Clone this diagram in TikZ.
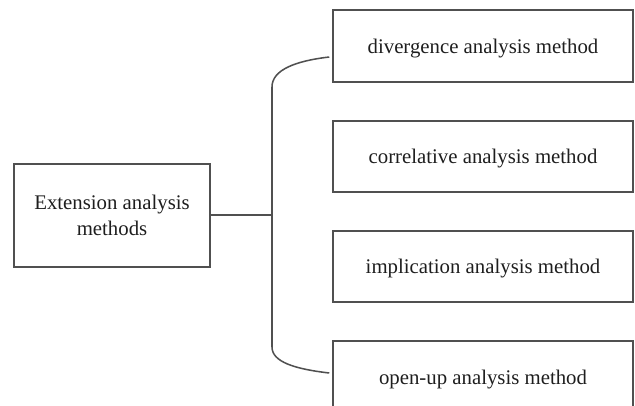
\documentclass[tikz,border=0pt]{standalone}
\usepackage{fontspec}
\setmainfont{Liberation Serif}
\definecolor{linegray}{HTML}{505050}
\definecolor{textgray}{HTML}{1E1E1E}
\begin{document}
\begin{tikzpicture}[x=0.75pt,y=-0.75pt,
  box/.style={draw=linegray,line width=1.15pt,text=textgray,inner sep=0pt,
    font=\fontsize{15.6}{19.5}\selectfont,align=center},
  itembox/.style={box,minimum width=300*0.75pt,text height=15pt,text depth=4pt},
  conn/.style={draw=linegray,line width=1.15pt}]
\useasboundingbox (0,0) rectangle (635,406);
\node[box,minimum width=196*0.75pt,minimum height=103*0.75pt] (src) at (112,215.5) {Extension analysis\\methods};
\node[itembox,minimum height=72*0.75pt] (b1) at (483,46) {divergence analysis method};
\node[itembox,minimum height=71*0.75pt] (b2) at (483,156.5) {correlative analysis method};
\node[itembox,minimum height=71*0.75pt] (b3) at (483,266.5) {implication analysis method};
\node[itembox,minimum height=72*0.75pt] (b4) at (483,377) {open-up analysis method};
\coordinate (j) at (272,215);
\coordinate (top) at (272,87);
\coordinate (bot) at (272,347);
\draw[conn] (src.east |- j) -- (j);
\draw[conn] (top) -- (bot);
\draw[conn] (top) .. controls (272,70) and (295,61) .. ([xshift=-2.25pt,yshift=-8.25pt]b1.west);
\draw[conn] (bot) .. controls (272,362) and (295,369) .. ([xshift=-2.25pt,yshift=3pt]b4.west);
\end{tikzpicture}
\end{document}
